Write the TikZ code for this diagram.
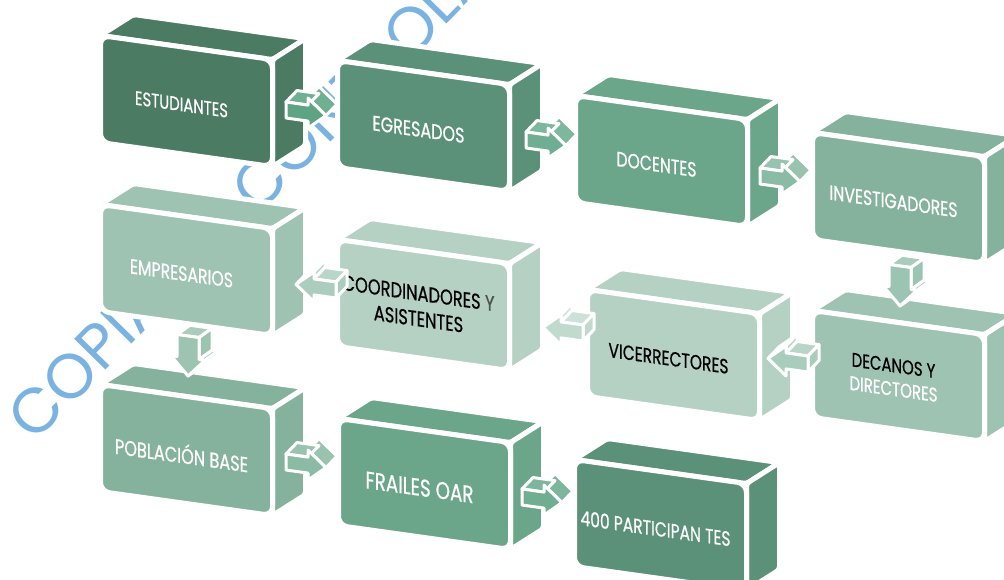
\documentclass[tikz,border=0pt]{standalone}
\usepackage{fontspec}
\usepackage{graphicx}
\newfontfamily\boxfont[FakeStretch=0.76, FakeBold=0.6]{Poppins}
\newfontfamily\wmfont{Poppins}
\definecolor{wmblue}{RGB}{122,179,225}
\definecolor{gA}{HTML}{4B7B63}
\definecolor{gB}{HTML}{5A9178}
\definecolor{gC}{HTML}{6BA68A}
\definecolor{gD}{HTML}{85B29D}
\definecolor{gE}{HTML}{9FC3B2}
\definecolor{gF}{HTML}{B4D1C4}
\definecolor{txgray}{HTML}{505050}
\definecolor{a1f}{HTML}{5FA385}\definecolor{a1t}{HTML}{6FB093}
\definecolor{a2f}{HTML}{6FAE93}\definecolor{a2t}{HTML}{7DB79D}
\definecolor{a3f}{HTML}{8ABBA5}\definecolor{a3t}{HTML}{97C3AF}
\definecolor{a4f}{HTML}{9CC4B2}\definecolor{a4t}{HTML}{A9CCBC}
\definecolor{a5f}{HTML}{A9CDBD}\definecolor{a5t}{HTML}{B7D5C8}
\definecolor{a6f}{HTML}{C1DACE}\definecolor{a6t}{HTML}{CCE1D7}
\definecolor{a7f}{HTML}{ACCDBE}\definecolor{a7t}{HTML}{B9D6C9}
\definecolor{a8f}{HTML}{9DC3B1}\definecolor{a8t}{HTML}{AACCBC}
\definecolor{a9f}{HTML}{8ABBA5}\definecolor{a9t}{HTML}{97C3AF}
\definecolor{a10f}{HTML}{70AE92}\definecolor{a10t}{HTML}{7DB69C}
\tikzset{
  face/.style={draw=white, line width=5pt, line join=round},
  aface/.style={draw=white, line width=3pt, line join=round},
  boxtext/.style={transform shape, inner sep=0pt, text=white},
}
% #1 name, #2 x, #3 y (top-left of visible front face), #4 colour, #5 text width, #6 text
\newcommand{\gbox}[6]{%
  \begin{scope}[shift={(#2-2.5,-#3+2.5)}, yslant=-0.14]
    \fill[#4, face, rounded corners=3pt] (0,0) -- (33,25.6) -- (205,25.6) -- (172,0) -- cycle;
    \fill[#4, face, rounded corners=3pt] (172,0) -- (205,25.6) -- (205,-81.4) -- (172,-107) -- cycle;
    \fill[#4, face, rounded corners=9pt] (0,0) rectangle (172,-107);
    \node[boxtext] (#1) at (81,-57.5) {\resizebox{#5pt}{!}{\boxfont #6}};
  \end{scope}}
% arrows: #1 name, #2 x, #3 y, #4 front colour, #5 top colour
\newcommand{\rarrow}[5]{%
  \begin{scope}[shift={(#2,-#3)}, yslant=-0.14]
    \fill[#5, aface] (22,15) -- (40,0) -- (51,13) -- (33,28) -- cycle;
    \fill[#5, aface] (0,8) -- (22,8) -- (33,21) -- (11,21) -- cycle;
    \fill[#4, aface] (0,8) -- (22,8) -- (22,15) -- (40,0) -- (22,-15) -- (22,-8) -- (0,-8) -- cycle;
    \coordinate (#1) at (20,0);
  \end{scope}}
\newcommand{\larrow}[5]{%
  \begin{scope}[shift={(#2,-#3)}, yslant=-0.14]
    \fill[#5, aface] (-22,15) -- (-40,0) -- (-29,13) -- (-11,28) -- cycle;
    \fill[#5, aface] (-22,8) -- (-22,15) -- (-11,28) -- (-11,21) -- cycle;
    \fill[#5, aface] (0,8) -- (-22,8) -- (-11,21) -- (11,21) -- cycle;
    \fill[#4, aface] (0,8) -- (0,-8) -- (11,5) -- (11,21) -- cycle;
    \fill[#4, aface] (0,8) -- (-22,8) -- (-22,15) -- (-40,0) -- (-22,-15) -- (-22,-8) -- (0,-8) -- cycle;
    \coordinate (#1) at (-20,0);
  \end{scope}}
\newcommand{\darrow}[5]{%
  \begin{scope}[shift={(#2,-#3)}, yslant=-0.14]
    \fill[#5, aface] (-11,0) -- (11,0) -- (24,11) -- (2,11) -- cycle;
    \fill[#4, aface] (11,0) -- (11,-22) -- (24,-11) -- (24,11) -- cycle;
    \fill[#5, aface] (11,-22) -- (17,-22) -- (30,-11) -- (24,-11) -- cycle;
    \fill[#4, aface] (17,-22) -- (0,-40) -- (13,-29) -- (30,-11) -- cycle;
    \fill[#4, aface] (-11,0) -- (11,0) -- (11,-22) -- (17,-22) -- (0,-40) -- (-17,-22) -- (-11,-22) -- cycle;
    \coordinate (#1) at (0,-20);
  \end{scope}}
\begin{document}
\begin{tikzpicture}[x=1pt, y=1pt]
\useasboundingbox (0,0) rectangle (1004,-580);
\clip (0,0) rectangle (1004,-580);
\fill[white] (0,0) rectangle (1004,-580);
% watermark
\node[rotate=45.5, anchor=base west, inner sep=0pt, text=wmblue,
      font=\wmfont\fontsize{63}{63}\selectfont] (wm) at (34,-444) {COPIA NO CONTROLADA};
% boxes
\gbox{est}{103}{38}{gA}{93}{ESTUDIANTES}
\gbox{egr}{340}{63}{gB}{92}{EGRESADOS}
\gbox{doc}{578}{98}{gC}{80}{DOCENTES}
\gbox{inv}{815}{135}{gD}{128}{INVESTIGADORES}
\gbox{dec}{815}{313}{gE}{88}{\begin{tabular}{@{}c@{}}\color{black}DECANOS Y\\ DIRECTORES\end{tabular}}
\gbox{vic}{590}{292}{gF}{120}{\color{black}VICERRECTORES}
\gbox{coo}{340}{242}{gF}{152}{\begin{tabular}{@{}c@{}}\color{black}COORDINADORES {\color{txgray}Y}\\ \color{black}ASISTENTES\end{tabular}}
\gbox{emp}{103}{207}{gE}{103}{EMPRESARIOS}
\gbox{pob}{103}{387}{gD}{133}{POBLACIÓN BASE}
\gbox{fra}{341}{421}{gC}{108}{FRAILES OAR}
\gbox{par}{577}{462}{gB}{150}{400 PARTICIPAN TES}
% arrows
\rarrow{a12}{286}{110}{a1f}{a1t}
\rarrow{a23}{526}{140}{a2f}{a2t}
\rarrow{a34}{760}{176}{a3f}{a3t}
\darrow{a45}{900}{266}{a4f}{a4t}
\larrow{a56}{808}{364}{a5f}{a5t}
\larrow{a67}{583}{333}{a6f}{a6t}
\larrow{a78}{336}{290}{a7f}{a7t}
\darrow{a89}{188}{336}{a8f}{a8t}
\rarrow{a910}{286}{462}{a9f}{a9t}
\rarrow{a1011}{522}{497}{a10f}{a10t}
\end{tikzpicture}
\end{document}
